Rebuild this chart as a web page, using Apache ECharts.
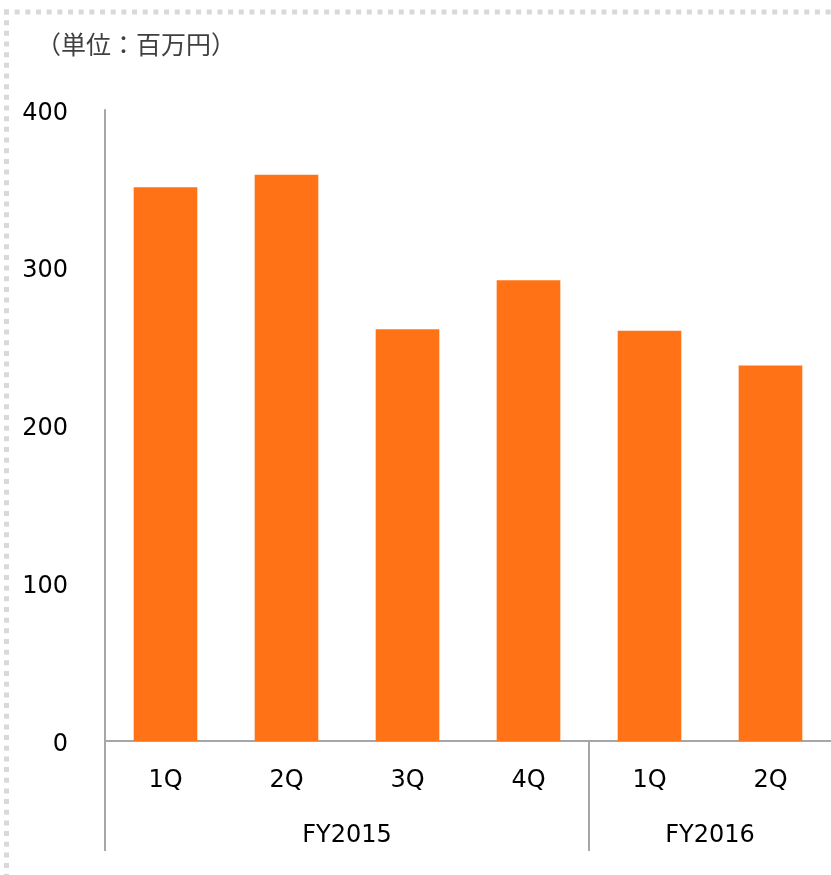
<!DOCTYPE html>
<html>
<head>
<meta charset="utf-8">
<script src="https://cdn.jsdelivr.net/npm/echarts@6/dist/echarts.min.js"></script>
<style>
html,body{margin:0;padding:0;background:#fff;}
#main{width:831px;height:875px;}
</style>
</head>
<body>
<div id="main"></div>
<script>
// ---- data ----
const quarters = ['1Q', '2Q', '3Q', '4Q', '1Q', '2Q'];
const sales = [351, 359, 261, 292, 260, 238];
const years = ['FY2015', 'FY2016'];
const yearSizes = [4, 2];
const yTicks = [0, 100, 200, 300, 400];
const unitLabel = '（単位：百万円）';

// group boundaries and centers (in category units)
const bounds = [0];
yearSizes.forEach(s => bounds.push(bounds[bounds.length - 1] + s));
const centers = yearSizes.map((s, i) => bounds[i] + s / 2);

const chart = echarts.init(document.getElementById('main'), null, {renderer: 'canvas'});
const axisGray = '#a6a6a6';
const latin = 'DejaVu Sans';

chart.setOption({
  animation: false,
  backgroundColor: '#fff',
  title: {
    text: unitLabel,
    left: 31,
    top: 27,
    textStyle: {fontFamily: 'Noto Sans CJK JP', fontSize: 25, fontWeight: 'normal', color: '#404040'}
  },
  grid: {left: 105, right: 0, top: 110, bottom: 134, containLabel: false},
  xAxis: [
    {
      type: 'category',
      data: quarters,
      position: 'bottom',
      axisLine: {show: true, lineStyle: {color: axisGray, width: 2}},
      axisTick: {show: false},
      axisLabel: {margin: 28, fontFamily: latin, fontSize: 24, color: '#000'},
      splitLine: {show: false}
    },
    {
      type: 'value',
      min: 0,
      max: bounds[bounds.length - 1],
      position: 'bottom',
      axisLine: {show: false},
      splitLine: {show: false},
      axisTick: {
        show: true,
        customValues: bounds.slice(0, -1),
        length: 110,
        lineStyle: {color: axisGray, width: 2}
      },
      axisLabel: {
        show: true,
        customValues: centers,
        margin: 83,
        fontFamily: latin,
        fontSize: 24,
        color: '#000',
        formatter: v => {
          const i = centers.indexOf(v);
          return i >= 0 ? years[i] : '';
        }
      }
    }
  ],
  yAxis: {
    type: 'value',
    min: yTicks[0],
    max: yTicks[yTicks.length - 1],
    interval: yTicks[1] - yTicks[0],
    axisLine: {show: true, lineStyle: {color: axisGray, width: 2}},
    axisTick: {show: false},
    splitLine: {show: false},
    axisLabel: {
      margin: 37,
      formatter: v => '{a|' + v + '}',
      rich: {a: {fontFamily: latin, fontSize: 24, color: '#000', padding: [7, 0, 0, 0]}}
    }
  },
  series: [{
    type: 'bar',
    data: sales,
    xAxisIndex: 0,
    barWidth: '52.6%',
    itemStyle: {color: '#FF7316'}
  }],
  graphic: [
    {type: 'line', silent: true, shape: {x1: 4, y1: 12, x2: 831, y2: 12},
     style: {stroke: '#d9d9d9', lineWidth: 5, lineDash: [5, 5.67], lineCap: 'butt'}},
    {type: 'line', silent: true, shape: {x1: 6.5, y1: 9.5, x2: 6.5, y2: 875},
     style: {stroke: '#d9d9d9', lineWidth: 5, lineDash: [5, 5.67], lineCap: 'butt'}}
  ]
});
</script>
</body>
</html>
